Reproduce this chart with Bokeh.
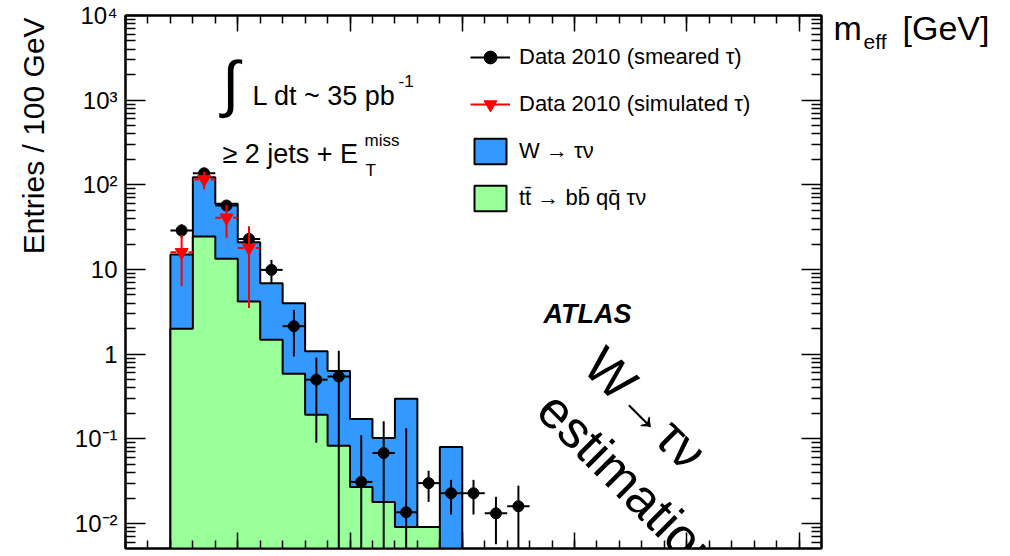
import math
from bokeh.plotting import figure
from bokeh.layouts import row
from bokeh.models import (Range1d, FixedTicker, LogAxis, LinearAxis, Label, Legend,
                          LegendItem, CustomJSTickFormatter)
from bokeh.core.properties import value
from bokeh.embed import file_html
from bokeh.resources import INLINE

# ---------------- data ----------------
bin_edges = [200, 300, 400, 500, 600, 700, 800, 900, 1000, 1100, 1200, 1300, 1400, 1500]
ttbar = [2.0, 24.5, 13.4, 4.2, 1.48, 0.586, 0.192, 0.083, 0.027, 0.018, 0.0091, 0.0091, 0.0]
w_taunu = [13.0, 98.5, 46.6, 16.8, 5.42, 3.41, 0.89, 0.55, 0.145, 0.084, 0.288, 0.0, 0.080]

data_centers = [250, 350, 450, 550, 650, 750, 850, 950, 1050, 1150, 1250, 1350, 1450, 1550, 1650, 1750]
data_smeared = [28.9, 137, 57, 23, 9.9, 2.14, 0.50, 0.545, 0.031, 0.068, 0.0136, 0.030, 0.0228, 0.0228, 0.0132, 0.016]
data_smeared_err = [5.4, 11.7, 7.5, 4.8, 3.1, 1.2, 0.41, 0.55, 0.079, 0.093, 0.12, 0.012, 0.010, 0.010, 0.0075, 0.012]

sim_centers = [250, 350, 450, 550]
data_simulated = [16.0, 116, 40.8, 18.0]
data_simulated_err = [9.6, 27, 17, 14.5]

bin_half_width = 50
y_ticks = [0.01, 0.1, 1, 10, 100, 1000, 10000]
y_tick_labels = ["10⁻²", "10⁻¹", "1", "10", "10²", "10³", "10⁴"]
x_ticks = [0, 500, 1000, 1500, 2000, 2500, 3000]
x_minor_ticks = list(range(0, 3101, 100))
y_minor_ticks = [k * 10.0 ** n for n in range(-3, 4) for k in range(2, 10)]

# ---------------- layout constants ----------------
W, H = 1010, 556
LW = 60                 # left strip (y-axis title)
FL, FR, FT, FB = 125, 821, 15, 548   # frame edges in canvas pixels
PW = FR - LW + 3        # main figure width
RW = W - LW - PW        # right strip (x-axis title)
FLOOR = 1e-5
FONT = "Liberation Sans"
BLUE = "#3399ff"
GREEN = "#99ff99"

p = figure(width=PW, height=H, x_range=Range1d(0, 3100), y_range=Range1d(0.00507, 10000),
           y_axis_type="log", output_backend="svg", toolbar_location=None, title=None,
           min_border_left=FL - LW, min_border_right=3, min_border_top=FT,
           min_border_bottom=H - FB)
p.grid.visible = False
p.outline_line_color = "black"
p.outline_line_width = 2
p.background_fill_color = "white"
p.border_fill_color = "white"

blank = CustomJSTickFormatter(code="return ''")


def style_axis(ax, ticks, minor, major_in, minor_in):
    ax.ticker = FixedTicker(ticks=ticks, minor_ticks=minor)
    ax.axis_line_color = "black"
    ax.axis_line_width = 2
    ax.major_tick_in = major_in
    ax.major_tick_out = 0
    ax.minor_tick_in = minor_in
    ax.minor_tick_out = 0
    ax.major_tick_line_width = 1.5
    ax.minor_tick_line_width = 1.5
    ax.major_tick_line_color = "black"
    ax.minor_tick_line_color = "black"


def hide_labels(ax):
    ax.formatter = blank
    ax.major_label_text_font_size = "0px"
    ax.major_label_standoff = 0


# left (labelled) log axis
yl = p.yaxis[0]
style_axis(yl, y_ticks, y_minor_ticks, 20, 10)
yl.major_label_overrides = dict(zip(y_ticks, y_tick_labels))
yl.major_label_text_font = FONT
yl.major_label_text_font_size = "24px"
yl.major_label_text_color = "black"
yl.major_label_standoff = 8

# bottom axis (labels cut off in the reference)
xb = p.xaxis[0]
style_axis(xb, x_ticks, x_minor_ticks, 16, 8)
hide_labels(xb)

# mirrored axes
yr = LogAxis()
style_axis(yr, y_ticks, y_minor_ticks, 20, 10)
hide_labels(yr)
p.add_layout(yr, "right")

xt = LinearAxis()
style_axis(xt, x_ticks, x_minor_ticks, 16, 8)
hide_labels(xt)
p.add_layout(xt, "above")


# ---------------- histograms ----------------
def step_path(edges, heights):
    xs, ys = [edges[0]], [FLOOR]
    for i, h in enumerate(heights):
        hh = h if h > 0 else FLOOR
        xs += [edges[i], edges[i + 1]]
        ys += [hh, hh]
    xs.append(edges[-1])
    ys.append(FLOOR)
    return xs, ys


total = [a + b for a, b in zip(ttbar, w_taunu)]
bx, by = step_path(bin_edges, total)
gx, gy = step_path(bin_edges, ttbar)
r_w = p.patch(bx, by, fill_color=BLUE, line_color="black", line_width=2)
r_tt = p.patch(gx, gy, fill_color=GREEN, line_color="black", line_width=2)

# ---------------- data points ----------------
d_lo = [max(v - e, FLOOR) for v, e in zip(data_smeared, data_smeared_err)]
d_hi = [v + e for v, e in zip(data_smeared, data_smeared_err)]
d_l = [c - bin_half_width for c in data_centers]
d_r = [c + bin_half_width for c in data_centers]
r_dh = p.segment(x0=d_l, y0=data_smeared, x1=d_r, y1=data_smeared, line_color="black", line_width=2)
p.segment(x0=data_centers, y0=d_lo, x1=data_centers, y1=d_hi, line_color="black", line_width=2)
r_dm = p.scatter(data_centers, data_smeared, marker="circle", size=11, fill_color="black",
                 line_color="black")

s_lo = [max(v - e, FLOOR) for v, e in zip(data_simulated, data_simulated_err)]
s_hi = [v + e for v, e in zip(data_simulated, data_simulated_err)]
s_l = [c - bin_half_width for c in sim_centers]
s_r = [c + bin_half_width for c in sim_centers]
p.segment(x0=s_l, y0=data_simulated, x1=s_r, y1=data_simulated, line_color="red",
          line_width=2, line_dash="6 3")
r_sv = p.segment(x0=sim_centers, y0=s_lo, x1=sim_centers, y1=s_hi, line_color="red", line_width=2)
r_sm = p.scatter(sim_centers, data_simulated, marker="inverted_triangle", size=13,
                 fill_color="red", line_color="red")

# ---------------- legend ----------------
legend = Legend(items=[
    LegendItem(label="Data 2010 (smeared τ)", renderers=[r_dh, r_dm]),
    LegendItem(label="Data 2010 (simulated τ)", renderers=[r_sv, r_sm]),
    LegendItem(label="W → τν", renderers=[r_w]),
    LegendItem(label="tt̄ → bb̄ qq̄ τν", renderers=[r_tt]),
])
legend.location = (470 - FL, FB - 214)
legend.padding = 0
legend.margin = 0
legend.spacing = 15
legend.glyph_width = 40
legend.glyph_height = 32
legend.label_standoff = 9
legend.label_text_font = FONT
legend.label_text_font_size = "22px"
legend.label_text_color = "black"
legend.border_line_alpha = 0
legend.background_fill_alpha = 0
p.add_layout(legend)


# ---------------- text annotations ----------------
def add_text(fig, ox, oy, x, y, text, size, align="left", baseline="middle", angle=0.0,
             style="normal"):
    """x, y are canvas pixels; (ox, oy) is the canvas position of fig's frame bottom-left."""
    fig.add_layout(Label(x=x - ox, y=oy - y, x_units="screen", y_units="screen", text=text,
                         text_font=FONT, text_font_size=f"{size}px", text_align=align,
                         text_baseline=baseline, angle=angle, text_font_style=style,
                         text_color="black"))


add_text(p, FL, FB, 230, 83, "∫", 62, align="center")
add_text(p, FL, FB, 252, 95, "L dt ~ 35 pb", 27)
add_text(p, FL, FB, 398, 80, "-1", 17)

add_text(p, FL, FB, 222, 153, "≥ 2 jets + E", 27)
add_text(p, FL, FB, 364, 140, "miss", 17)
add_text(p, FL, FB, 365, 170, "T", 17)

add_text(p, FL, FB, 543, 313, "ATLAS", 27, style="bold italic")

add_text(p, FL, FB, 645, 408, "W→τν", 52, align="center", angle=-math.pi / 4)
add_text(p, FL, FB, 630, 484, "estimation", 52, align="center", angle=-math.pi / 4)


# ---------------- side strips holding the axis titles ----------------
def strip(width):
    f = figure(width=width, height=H, x_range=Range1d(0, width), y_range=Range1d(0, H),
               output_backend="svg", toolbar_location=None, min_border=0, title=None,
               x_axis_location=None, y_axis_location=None)
    f.grid.visible = False
    f.outline_line_color = None
    f.background_fill_color = "white"
    f.border_fill_color = "white"
    return f


pl = strip(LW)
pl.text(x=[33], y=[H - 249], text=["Entries / 100 GeV"], angle=math.pi / 2,
        text_align="left", text_baseline="middle", text_font=value(FONT),
        text_font_size="30px", text_color="black")

pr = strip(RW)
x0 = LW + PW
add_text(pr, x0, H, 833, 35, "m", 34)
add_text(pr, x0, H, 863, 49, "eff", 21)
add_text(pr, x0, H, 902, 35, "[GeV]", 34)

layout = row(pl, p, pr, spacing=0)
open("out.html", "w").write(file_html(layout, INLINE))
